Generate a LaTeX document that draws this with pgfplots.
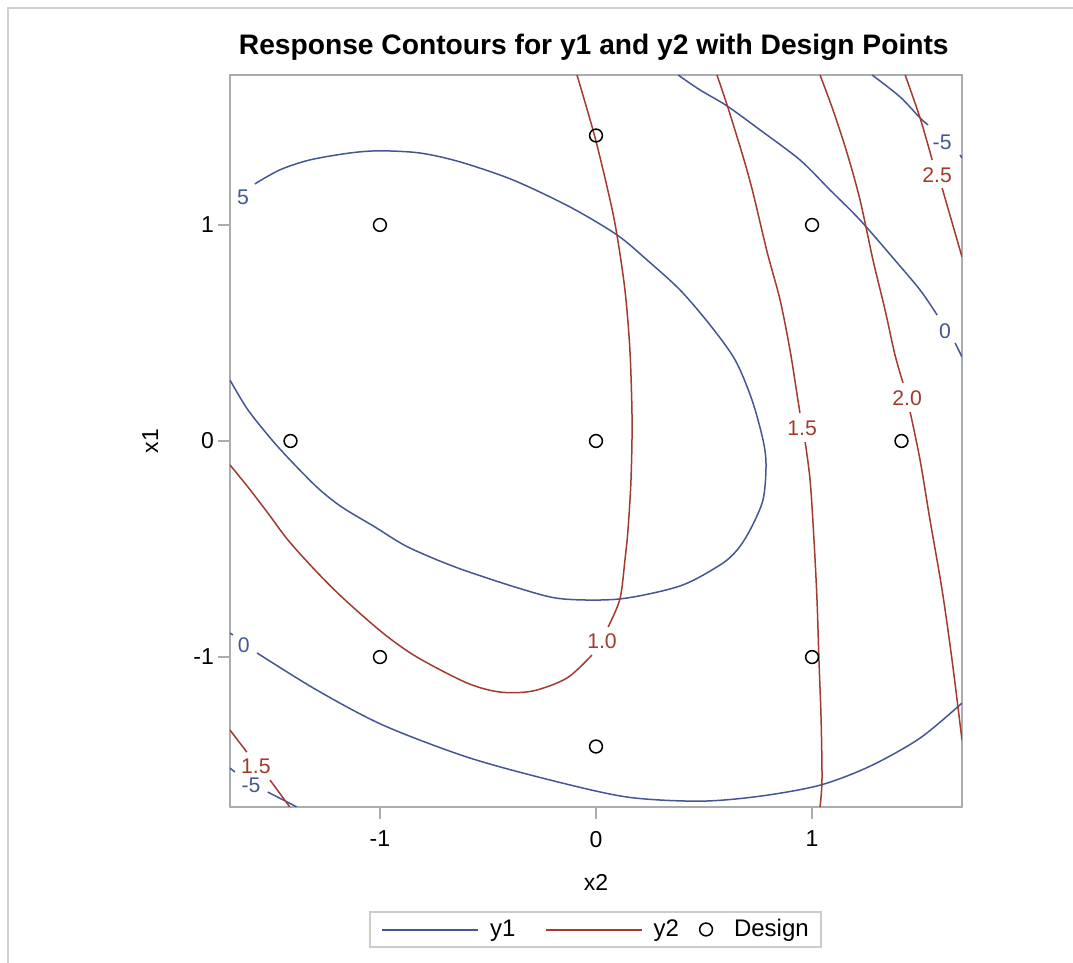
\documentclass[border=0pt]{standalone}
\usepackage{pgfplots}
\pgfplotsset{compat=1.18}
\usepackage{fontspec}
\setmainfont{Liberation Sans}
\definecolor{cblue}{HTML}{445694}
\definecolor{cred}{HTML}{A23A2E}
\definecolor{framec}{HTML}{A9ADB0}
\pgfplotsset{
  emptyleg/.style={legend image code/.code={%
    \pgfpathmoveto{\pgfpointorigin}\pgfusepath{discard}}},
  designleg/.style={legend image code/.code={%
    \pgfsetstrokecolor{black}\pgfsetlinewidth{0.75pt}%
    \pgfpathcircle{\pgfpointorigin}{3.2pt}\pgfusepath{stroke}%
    \pgfpathmoveto{\pgfqpoint{12pt}{0pt}}\pgfusepath{discard}}},
}
\begin{document}
\begin{tikzpicture}
\path[use as bounding box] (-115pt,-78pt) rectangle (421.5pt,403.5pt);
\draw[line width=1pt, color=black!18] (-111pt,-80pt) -- (-111pt,399.5pt) -- (425pt,399.5pt);
\begin{axis}[
  scale only axis, width=366pt, height=366pt,
  xmin=-1.694, xmax=1.694, ymin=-1.694, ymax=1.694,
  axis line style={framec, line width=1pt},
  xtick={-1,0,1}, ytick={-1,0,1},
  xticklabels={-1,0,1}, yticklabels={-1,0,1},
  tick align=outside, tick pos=left,
  major tick length=6pt,
  tick style={framec, line width=1pt},
  ticklabel style={font=\fontsize{11.5}{13}\selectfont},
  xticklabel style={yshift=-2.5pt},
  yticklabel style={xshift=1.5pt},
  label style={font=\fontsize{11.5}{13}\selectfont},
  xlabel={x2}, ylabel={x1},
  xlabel style={at={(axis description cs:0.5,0)}, anchor=center, yshift=-37.5pt},
  ylabel style={at={(axis description cs:-0.109,0.5)}, anchor=center, rotate=0},
  title={Response Contours for y1 and y2 with Design Points},
  title style={at={(axis description cs:0.497,1)}, anchor=base, yshift=4pt, font=\bfseries\fontsize{14.1}{17}\selectfont},
  legend columns=3,
  legend style={at={(axis description cs:0.4993,-0.1673)}, anchor=center, draw=black!20, line width=1pt,
    font=\fontsize{12}{13}\selectfont, inner xsep=4pt, inner ysep=1.5pt,
    /tikz/every odd column/.append style={column sep=0pt},
    /tikz/every even column/.append style={column sep=8pt}},
  clip mode=individual,
]

% ---- y1 contours (blue) ----
\addplot[cblue, line width=0.75pt, smooth, tension=0.5, emptyleg] coordinates {
(-1.579,1.190) (-1.463,1.255) (-1.324,1.301) (-1.139,1.333) (-1.000,1.343) (-0.815,1.333) (-0.630,1.292) (-0.384,1.208) (-0.120,1.083) (0.097,0.954) (0.236,0.838) (0.389,0.699) (0.528,0.537) (0.644,0.375) (0.722,0.190) (0.773,0.005) (0.787,-0.111) (0.773,-0.273) (0.713,-0.412) (0.653,-0.505) (0.574,-0.574) (0.389,-0.671) (0.111,-0.731) (-0.153,-0.731) (-0.329,-0.690) (-0.639,-0.588) (-0.870,-0.491) (-1.023,-0.398) (-1.176,-0.306) (-1.287,-0.218) (-1.407,-0.097) (-1.5,0.005) (-1.611,0.144) (-1.694,0.282)};
\addlegendentry{{\color{cblue}\rule[2.8pt]{48pt}{0.8pt}}\hspace{6pt}y1\hspace*{3pt}}
\addplot[cblue, line width=0.75pt, forget plot] coordinates {(-1.694,-0.889) (-1.680,-0.898)};
\addplot[cblue, line width=0.75pt, smooth, tension=0.5, forget plot] coordinates {
(-1.569,-0.981) (-1.292,-1.153) (-0.986,-1.315) (-0.597,-1.463) (-0.213,-1.569) (0.144,-1.648) (0.481,-1.667) (0.759,-1.644) (1.037,-1.593) (1.269,-1.505) (1.5,-1.375) (1.694,-1.213)};
\addplot[cblue, line width=0.75pt, smooth, tension=0.5, forget plot] coordinates {
(0.380,1.694) (0.481,1.625) (0.606,1.551) (0.759,1.440) (0.944,1.301) (1.083,1.162) (1.222,1.023) (1.375,0.847) (1.5,0.699) (1.579,0.583)};
\addplot[cblue, line width=0.75pt, forget plot] coordinates {(1.662,0.454) (1.694,0.389)};
\addplot[cblue, line width=0.75pt, smooth, tension=0.5, forget plot] coordinates {
(1.278,1.694) (1.407,1.593) (1.5,1.495) (1.537,1.463)};
\addplot[cblue, line width=0.75pt, forget plot] coordinates {(1.685,1.324) (1.694,1.310)};
\addplot[cblue, line width=0.75pt, forget plot] coordinates {(-1.694,-1.514) (-1.671,-1.532)};
\addplot[cblue, line width=0.75pt, forget plot] coordinates {(-1.519,-1.625) (-1.384,-1.694)};

% ---- y2 contours (red) ----
\addplot[cred, line width=0.75pt, smooth, tension=0.5, emptyleg] coordinates {
(-0.088,1.694) (-0.005,1.407) (0.065,1.116) (0.097,0.954) (0.134,0.699) (0.157,0.421) (0.167,0.097) (0.162,-0.181) (0.148,-0.412) (0.134,-0.551) (0.111,-0.731) (0.056,-0.861)};
\addlegendentry{{\color{cred}\rule[2.8pt]{48pt}{0.8pt}}\hspace{6pt}y2}
\addplot[cred, line width=0.75pt, smooth, tension=0.5, forget plot] coordinates {
(-0.019,-0.991) (-0.134,-1.097) (-0.292,-1.157) (-0.444,-1.162) (-0.597,-1.120) (-0.829,-1.000) (-0.986,-0.889) (-1.171,-0.727) (-1.301,-0.597) (-1.426,-0.458) (-1.519,-0.333) (-1.611,-0.213) (-1.694,-0.111)};
\addplot[cred, line width=0.75pt, forget plot] coordinates {(-1.694,-1.338) (-1.616,-1.440)};
\addplot[cred, line width=0.75pt, forget plot] coordinates {(-1.509,-1.569) (-1.417,-1.694)};
\addplot[cred, line width=0.75pt, smooth, tension=0.5, forget plot] coordinates {
(0.560,1.694) (0.611,1.542) (0.681,1.315) (0.727,1.148) (0.792,0.875) (0.852,0.653) (0.898,0.421) (0.931,0.213) (0.944,0.130)};
\addplot[cred, line width=0.75pt, smooth, tension=0.5, forget plot] coordinates {
(0.968,-0.005) (0.991,-0.181) (1.009,-0.458) (1.023,-0.736) (1.032,-1.014) (1.042,-1.292) (1.046,-1.569) (1.037,-1.694)};
\addplot[cred, line width=0.75pt, smooth, tension=0.5, forget plot] coordinates {
(1.037,1.694) (1.097,1.532) (1.162,1.333) (1.222,1.116) (1.282,0.838) (1.338,0.606) (1.384,0.398) (1.421,0.269)};
\addplot[cred, line width=0.75pt, smooth, tension=0.5, forget plot] coordinates {
(1.454,0.134) (1.5,-0.088) (1.546,-0.366) (1.602,-0.690) (1.648,-1.014) (1.694,-1.384)};
\addplot[cred, line width=0.75pt, smooth, tension=0.5, forget plot] coordinates {
(1.431,1.694) (1.5,1.495) (1.556,1.301)};
\addplot[cred, line width=0.75pt, forget plot] coordinates {(1.602,1.171) (1.694,0.852)};

% ---- contour labels ----
\begin{scope}[every node/.style={font=\fontsize{10.6}{12}\selectfont, inner sep=0pt}]
\node[text=cblue] at (axis cs:-1.634,1.130) {5};
\node[text=cblue] at (axis cs:-1.630,-0.944) {0};
\node[text=cblue] at (axis cs:-1.597,-1.595) {-5};
\node[text=cblue] at (axis cs:1.616,0.509) {0};
\node[text=cblue] at (axis cs:1.602,1.384) {-5};
\node[text=cred] at (axis cs:0.028,-0.926) {1.0};
\node[text=cred] at (axis cs:-1.574,-1.508) {1.5};
\node[text=cred] at (axis cs:0.954,0.060) {1.5};
\node[text=cred] at (axis cs:1.440,0.199) {2.0};
\node[text=cred] at (axis cs:1.579,1.231) {2.5};
\end{scope}

% ---- design points ----
\addplot[only marks, mark=o, mark size=3.2pt, black, mark options={line width=0.75pt}, designleg] coordinates {
(-1,-1) (1,-1) (-1,1) (1,1) (-1.414,0) (1.414,0) (0,-1.414) (0,1.414) (0,0)};
\addlegendentry{Design}
\end{axis}
\end{tikzpicture}
\end{document}
